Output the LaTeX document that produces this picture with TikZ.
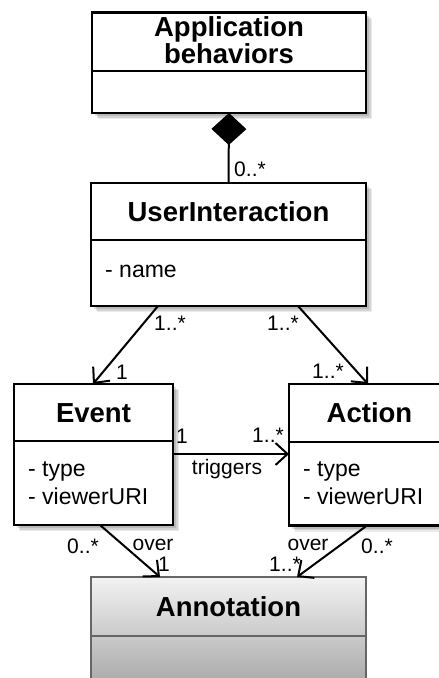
\documentclass[tikz,border=0pt]{standalone}
\usepackage{fontspec}
\setmainfont{Liberation Sans}
\usetikzlibrary{arrows.meta,shadows,calc}
\newcommand\umltitlefont{\fontsize{27.5}{26.5}\selectfont\bfseries}
\newcommand\umlattrfont{\fontsize{23}{28}\selectfont}
\newcommand\umlmultfont{\fontsize{21}{24}\selectfont}
\begin{document}
\begin{tikzpicture}[x=1pt,y=-1pt,
  softshadow/.style={
    drop shadow={shadow xshift=6pt, shadow yshift=-6pt, opacity=0.08, fill=black},
    drop shadow={shadow xshift=4.5pt, shadow yshift=-4.5pt, opacity=0.1, fill=black},
    drop shadow={shadow xshift=3pt, shadow yshift=-3pt, opacity=0.12, fill=black}},
  umlbox/.style={draw=black, line width=2.6pt, fill=white, inner sep=0pt, outer sep=0pt, softshadow},
  annotbox/.style={draw=black!60, line width=2.2pt, inner sep=0pt, outer sep=0pt,
    top color=black!5, bottom color=black!38},
  divider/.style={line width=2.2pt},
  annotdivider/.style={line width=2pt, draw=black!60},
  umltitle/.style={font=\umltitlefont, inner sep=0pt, align=center},
  umlattr/.style={font=\umlattrfont, inner sep=0pt, anchor=base west},
  mult/.style={font=\umlmultfont, inner sep=0pt},
  conn/.style={line width=2pt, -{Straight Barb[length=12pt,width=22pt]}},
  comp/.style={line width=2pt, {Diamond[length=32pt,width=35pt,fill=black]}-}
]
\clip (0,0) rectangle (439,678);
\fill[white] (0,0) rectangle (439,678);

% Application behaviors
\node[umlbox, minimum width=274pt, minimum height=100.5pt] (app) at (229,62.75) {};
\draw[divider] ($(app.north west)+(0,58.5)$) -- ($(app.north east)+(0,58.5)$);
\node[umltitle] (apptitle) at (229,40) {Application\\behaviors};

% UserInteraction
\node[umlbox, minimum width=275pt, minimum height=123pt] (ui) at (228.5,244.5) {};
\draw[divider] ($(ui.north west)+(0,57)$) -- ($(ui.north east)+(0,57)$);
\node[umltitle] (uititle) at (228.5,211.5) {UserInteraction};
\node[umlattr] (uiattr) at (105,277) {- name};

% Event
\node[umlbox, minimum width=159pt, minimum height=141pt] (event) at (93.5,454.5) {};
\draw[divider] ($(event.north west)+(0,57)$) -- ($(event.north east)+(0,57)$);
\node[umltitle] (eventtitle) at (93.5,413) {Event};
\node[umlattr] (eventattra) at (28,476) {- type};
\node[umlattr] (eventattrb) at (28,504) {- viewerURI};

% Action
\node[umlbox, minimum width=161pt, minimum height=141.5pt] (action) at (369.5,454.75) {};
\draw[divider] ($(action.north west)+(0,58)$) -- ($(action.north east)+(0,58)$);
\node[umltitle] (actiontitle) at (369.5,413) {Action};
\node[umlattr] (actionattra) at (303,476) {- type};
\node[umlattr] (actionattrb) at (303,504) {- viewerURI};

% Annotation
\node[annotbox, minimum width=275pt, minimum height=123pt] (annot) at (228.5,638.5) {};
\draw[annotdivider] ($(annot.north west)+(0,59)$) -- ($(annot.north east)+(0,59)$);
\node[umltitle] (annottitle) at (228.5,606.5) {Annotation};

% Connectors
\draw[comp] (app.south) -- (ui.north);
\draw[conn] ($(ui.south west)+(67,0)$) -- ($(event.north west)+(79,0)$);
\draw[conn] ($(ui.south east)+(-68,0)$) -- ($(action.north west)+(79,0)$);
\draw[conn] ($(event.north east)+(0,70)$) -- ($(action.north west)+(0,70)$);
\draw[conn] ($(event.south west)+(86,0)$) -- ($(annot.north west)+(69,0)$);
\draw[conn] ($(action.south west)+(78,0)$) -- ($(annot.north east)+(-69,0)$);

% Multiplicities and labels
\node[mult] (m0) at (250,169) {0..*};
\node[mult] (m1) at (170,323) {1..*};
\node[mult] (m2) at (122,372) {1};
\node[mult] (m3) at (283,323) {1..*};
\node[mult] (m4) at (328,371) {1..*};
\node[mult] (m5) at (182,436) {1};
\node[mult] (m6) at (268,435) {1..*};
\node[mult] (trig) at (227,469) {triggers};
\node[mult] (m7) at (83,546) {0..*};
\node[mult] (over1) at (153,545) {over};
\node[mult] (m8) at (164,564) {1};
\node[mult] (over2) at (308,545) {over};
\node[mult] (m9) at (377,546) {0..*};
\node[mult] (m10) at (285,564) {1..*};
\end{tikzpicture}
\end{document}
